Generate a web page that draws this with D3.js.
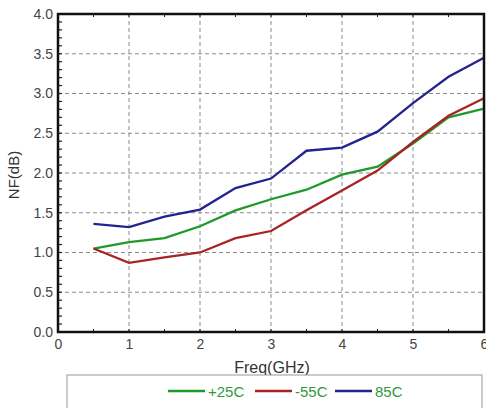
<!DOCTYPE html>
<html>
<head>
<meta charset="utf-8">
<script src="https://cdn.jsdelivr.net/npm/d3@7"></script>
<style>
  body { margin: 0; background: #fff; }
  text { font-family: Arial, "Liberation Sans", sans-serif; }
</style>
</head>
<body>
<div id="chart"></div>
<script>
// data
var freqs = [0.5, 1, 1.5, 2, 2.5, 3, 3.5, 4, 4.5, 5, 5.5, 6];
var nfPlus25 = [1.05, 1.13, 1.18, 1.33, 1.53, 1.67, 1.79, 1.98, 2.08, 2.37, 2.70, 2.81];
var nfMinus55 = [1.05, 0.87, 0.94, 1.00, 1.18, 1.27, 1.53, 1.78, 2.03, 2.39, 2.72, 2.94];
var nf85 = [1.36, 1.32, 1.45, 1.54, 1.81, 1.93, 2.28, 2.32, 2.52, 2.88, 3.21, 3.45];
var seriesNames = ['+25C', '-55C', '85C'];
var xTicks = [0, 1, 2, 3, 4, 5, 6];
var yTicks = [0, 0.5, 1, 1.5, 2, 2.5, 3, 3.5, 4];

var colors = ['#1f9a2a', '#a82424', '#23238f'];

var W = 486, H = 408;
var margin = {top: 14, right: 2, bottom: 76, left: 58},
    w = W - margin.left - margin.right,
    h = H - margin.top - margin.bottom;

var svg = d3.select('#chart').append('svg')
            .attr('width', W)
            .attr('height', H);

var x = d3.scaleLinear().domain([0, 6]).range([0, w]),
    y = d3.scaleLinear().domain([0, 4]).range([h, 0]);

var focus = svg.append('g')
               .attr('transform', 'translate(' + margin.left + ',' + margin.top + ')');

// dashed grid
focus.append('g').selectAll('line')
     .data(xTicks.slice(1, -1))
     .enter().append('line')
     .attr('x1', function(d) { return x(d); })
     .attr('x2', function(d) { return x(d); })
     .attr('y1', 0).attr('y2', h)
     .attr('stroke', '#8a8a8a').attr('stroke-width', 1)
     .attr('stroke-dasharray', '4,3');

focus.append('g').selectAll('line')
     .data(yTicks.slice(1, -1))
     .enter().append('line')
     .attr('y1', function(d) { return y(d); })
     .attr('y2', function(d) { return y(d); })
     .attr('x1', 0).attr('x2', w)
     .attr('stroke', '#8a8a8a').attr('stroke-width', 1)
     .attr('stroke-dasharray', '4,3');

// minor ticks on the left axis (inside)
focus.append('g').selectAll('line')
     .data(d3.range(1, 40))
     .enter().append('line')
     .attr('x1', 0).attr('x2', 4)
     .attr('y1', function(d) { return y(d / 10); })
     .attr('y2', function(d) { return y(d / 10); })
     .attr('stroke', '#222').attr('stroke-width', 1.2);

// small ticks on bottom / top at half steps
var halfTicks = d3.range(1, 12).map(function(d) { return d / 2; });
focus.append('g').selectAll('line')
     .data(halfTicks)
     .enter().append('line')
     .attr('x1', function(d) { return x(d); })
     .attr('x2', function(d) { return x(d); })
     .attr('y1', h).attr('y2', h - 3)
     .attr('stroke', '#222');
focus.append('g').selectAll('line')
     .data(halfTicks)
     .enter().append('line')
     .attr('x1', function(d) { return x(d); })
     .attr('x2', function(d) { return x(d); })
     .attr('y1', 0).attr('y2', 3)
     .attr('stroke', '#222');

// lines
var line = d3.line()
             .x(function(d) { return x(d[0]); })
             .y(function(d) { return y(d[1]); });

[nfPlus25, nfMinus55, nf85].forEach(function(vals, i) {
  focus.append('path')
       .datum(freqs.map(function(f, j) { return [f, vals[j]]; }))
       .attr('d', line)
       .attr('fill', 'none')
       .attr('stroke', colors[i])
       .attr('stroke-width', 2.3);
});

// frame
focus.append('rect')
     .attr('x', 0).attr('y', 0)
     .attr('width', w).attr('height', h)
     .attr('fill', 'none')
     .attr('stroke', '#111')
     .attr('stroke-width', 2.5);

// axes tick labels
var yAxis = d3.axisLeft(y).tickValues(yTicks).tickFormat(d3.format('.1f')).tickSize(0).tickPadding(5);
focus.append('g').call(yAxis)
     .call(function(g) { g.select('.domain').remove(); })
     .selectAll('text')
     .attr('fill', '#444')
     .style('font-size', '14px');

var xAxis = d3.axisBottom(x).tickValues(xTicks).tickFormat(d3.format('d')).tickSize(0).tickPadding(7);
focus.append('g')
     .attr('transform', 'translate(0,' + h + ')')
     .call(xAxis)
     .call(function(g) { g.select('.domain').remove(); })
     .selectAll('text')
     .attr('fill', '#444')
     .style('font-size', '14px');

// axis titles
svg.append('text')
   .attr('text-anchor', 'middle')
   .attr('transform', 'translate(19,' + (margin.top + y(2) + 2) + ')rotate(-90)')
   .attr('fill', '#333')
   .style('font-size', '15px')
   .text('NF(dB)');

svg.append('text')
   .attr('text-anchor', 'middle')
   .attr('x', 272).attr('y', 373)
   .attr('fill', '#333')
   .style('font-size', '16px')
   .text('Freq(GHz)');

// legend
svg.append('rect')
   .attr('x', 67).attr('y', 375)
   .attr('width', 415).attr('height', 40)
   .attr('fill', '#fff')
   .attr('stroke', '#999')
   .attr('stroke-width', 1);

var legendX = [168, 255, 335];
var key = svg.selectAll('.key')
             .data(seriesNames)
             .enter().append('g')
             .attr('class', 'key')
             .attr('transform', function(d, i) { return 'translate(' + legendX[i] + ',391)'; });

key.append('line')
   .attr('x1', 0).attr('x2', 37)
   .attr('y1', 0).attr('y2', 0)
   .attr('stroke', function(d, i) { return colors[i]; })
   .attr('stroke-width', 2.3);

key.append('text')
   .attr('x', 40).attr('y', 5.5)
   .attr('fill', '#2e9a3a')
   .style('font-size', '15px')
   .text(function(d) { return d; });
</script>
</body>
</html>
